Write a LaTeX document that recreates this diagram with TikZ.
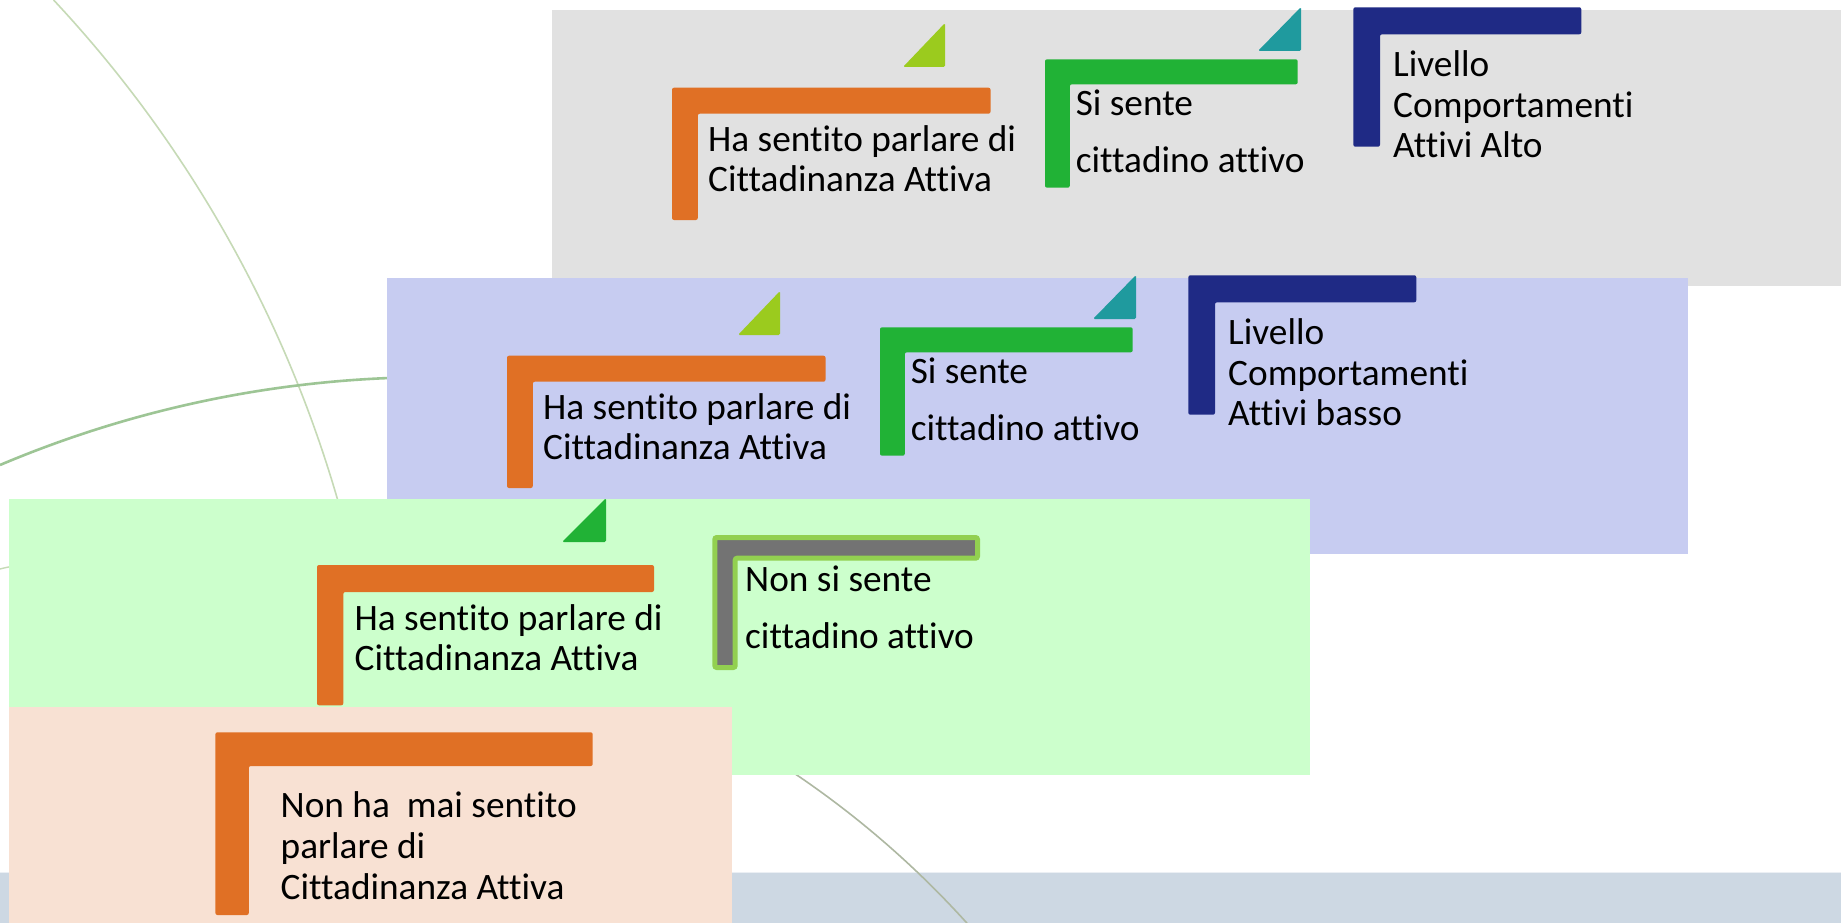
\documentclass[tikz,border=0pt]{standalone}
\usepackage{fontspec}
\setmainfont{Carlito}[Ligatures={NoCommon}]
\definecolor{pgray}{HTML}{E1E1E1}
\definecolor{pblue}{HTML}{C7CCF1}
\definecolor{pgreen}{HTML}{CCFFCC}
\definecolor{ppeach}{HTML}{F8E1D3}
\definecolor{corange}{HTML}{E07025}
\definecolor{clime}{HTML}{9BCB1E}
\definecolor{cgreen}{HTML}{21B236}
\definecolor{cteal}{HTML}{1F9A9E}
\definecolor{cnavy}{HTML}{1F2A85}
\definecolor{cdgray}{HTML}{737373}
\definecolor{coutl}{HTML}{92D050}
\definecolor{cband}{HTML}{CDD8E3}
\definecolor{carc}{HTML}{C6DAB6}
\definecolor{carcb}{HTML}{9DC595}
\definecolor{carcc}{HTML}{AEB8A2}
\newcommand\hfr[7]{\path[#1] (#2,#3) -- (#4,#3) -- (#4,#5) -- (#6,#5) -- (#6,#7) -- (#2,#7) -- cycle;}
\newcommand\tri[4]{\fill[#1,rounded corners=1.5] (#2,#4) -- (#3,#4) -- (#3,#4-44) -- cycle;}
\begin{document}
\begin{tikzpicture}[x=1pt,y=-1pt,
  tx/.style={anchor=base west, inner sep=0pt, font=\fontsize{37.3}{40}\selectfont, text=black},
  frame/.style={fill=#1, rounded corners=2}]
\useasboundingbox (0,0) rectangle (1841,923);
\fill[white] (0,0) rectangle (1841,923);
% bottom band
\fill[cband] (0,872) rectangle (1841,923);
\draw[white!60!cband, line width=1.5] (0,872.5) -- (1841,872.5);
% decorative arcs
\draw[carc, line width=1.6] (53.6,0) arc[start angle=-43.08, end angle=-14.2, radius=1234];
\draw[carcc, line width=1.6] (774,760) arc[start angle=-57.5, end angle=-41.5, radius=941.5];
\draw[carcb, line width=2.6] (0,465) arc[start angle=-112.94, end angle=-90.67, radius=1111];
\draw[carc, line width=1.4] (0,569) .. controls (4,568) and (8,567) .. (14,566);
% panels
\fill[pgray] (552,10) rectangle (1841,286);
\fill[pblue] (387,278) rectangle (1688,554);
\fill[pgreen] (9,499) rectangle (1310,775);
\fill[ppeach] (9,707) rectangle (732,923);
% ---- gray panel
\tri{clime}{903}{945}{67}
\hfr{frame=corange}{672}{87.7}{990.5}{113.7}{697.8}{220}
\hfr{frame=cgreen}{1045}{59.3}{1297.7}{84.3}{1069.8}{187.7}
\tri{cteal}{1258}{1301}{51}
\hfr{frame=cnavy}{1353.3}{7.3}{1581.3}{34.3}{1380}{146.7}
\node[tx] (g1a) at (708,151.7) {Ha sentito parlare di};
\node[tx] (g1b) at (708,191.7) {Cittadinanza Attiva};
\node[tx] (g2a) at (1075.6,115.5) {Si sente};
\node[tx] (g2b) at (1075.6,172) {cittadino attivo};
\node[tx] (g3a) at (1393,76.5) {Livello};
\node[tx] (g3b) at (1393,117.5) {Comportamenti};
\node[tx] (g3c) at (1393,157.5) {Attivi Alto};
% ---- blue panel
\tri{clime}{738}{780}{335}
\hfr{frame=corange}{507}{355.7}{825.5}{381.7}{532.8}{488}
\hfr{frame=cgreen}{880}{327.3}{1132.7}{352.3}{904.8}{455.7}
\tri{cteal}{1093}{1136}{319}
\hfr{frame=cnavy}{1188.3}{275.3}{1416.3}{302.3}{1215}{414.7}
\node[tx] (b1a) at (543,419.7) {Ha sentito parlare di};
\node[tx] (b1b) at (543,459.7) {Cittadinanza Attiva};
\node[tx] (b2a) at (910.6,383.5) {Si sente};
\node[tx] (b2b) at (910.6,440) {cittadino attivo};
\node[tx] (b3a) at (1228,344.5) {Livello};
\node[tx] (b3b) at (1228,385.5) {Comportamenti};
\node[tx] (b3c) at (1228,425.5) {Attivi basso};
% ---- green panel
\tri{cgreen}{562}{606}{542}
\hfr{frame=corange}{317}{565}{654}{592}{343.3}{705.3}
\hfr{fill=cdgray, draw=coutl, line width=5, rounded corners=2}{714.8}{537.5}{977.5}{558.2}{735.2}{667.5}
\node[tx] (n1a) at (354.5,630) {Ha sentito parlare di};
\node[tx] (n1b) at (354.5,670.7) {Cittadinanza Attiva};
\node[tx] (n2a) at (745,591.7) {Non si sente};
\node[tx] (n2b) at (745,648.3) {cittadino attivo};
% ---- peach panel
\hfr{frame=corange}{215.4}{732.3}{592.7}{766}{248.8}{915}
\node[tx] (p1a) at (280.5,817.7) {Non ha~ mai sentito};
\node[tx] (p1b) at (280.5,858.3) {parlare di};
\node[tx] (p1c) at (280.5,899.3) {Cittadinanza Attiva};
\end{tikzpicture}
\end{document}
